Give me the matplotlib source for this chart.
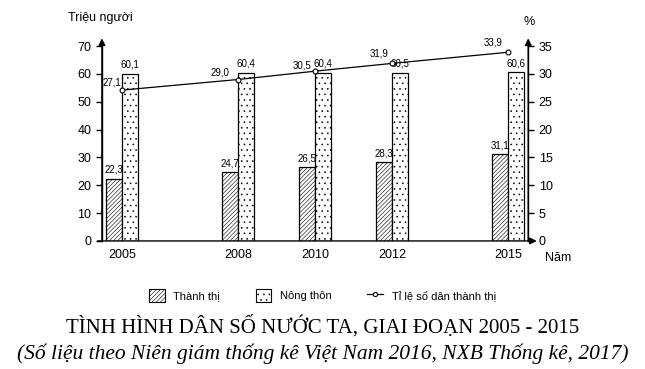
import numpy as np
import matplotlib.pyplot as plt
from matplotlib.patches import Patch
from matplotlib.lines import Line2D

years = [2005, 2008, 2010, 2012, 2015]
thanh_thi = [22.3, 24.7, 26.5, 28.3, 31.1]
nong_thon = [60.1, 60.4, 60.4, 60.5, 60.6]
ti_le = [27.1, 29.0, 30.5, 31.9, 33.9]


def fmt(v):
    return ('%.1f' % v).replace('.', ',')


plt.rcParams['font.family'] = ['Liberation Sans', 'DejaVu Sans']
plt.rcParams['hatch.linewidth'] = 0.4

fig = plt.figure(figsize=(6.45, 3.69), dpi=100)
ax = fig.add_axes([0.158, 0.347, 0.661, 0.528])
w = 0.41
x = np.array(years, dtype=float)

ax.bar(x - w / 2, thanh_thi, w, color='white', edgecolor='black', hatch='////////', linewidth=0.9)
ax.bar(x + w / 2, nong_thon, w, color='white', edgecolor='black', hatch='...', linewidth=0.9)
for xi, v in zip(x, thanh_thi):
    ax.text(xi - w / 2, v + 1.5, fmt(v), ha='center', va='bottom', fontsize=7)
for xi, v in zip(x, nong_thon):
    ax.text(xi + w / 2, v + 1.5, fmt(v), ha='center', va='bottom', fontsize=7)

ax.set_xlim(2004.48, 2015.52)
ax.set_ylim(0, 70)
ax.set_yticks(range(0, 71, 10))
ax.set_xticks(years)
ax.tick_params(axis='x', length=0, labelsize=9, pad=6)
ax.tick_params(axis='y', labelsize=9, length=4, width=1)
for s in ['top', 'right', 'bottom']:
    ax.spines[s].set_visible(False)
ax.spines['left'].set_linewidth(1)

ax2 = ax.twinx()
ax2.plot(x, ti_le, color='black', linewidth=0.9, marker='o', markersize=3.5,
         markerfacecolor='white', markeredgewidth=0.8)
offsets = [(-0.25, 0.4), (-0.45, 0.3), (-0.35, 0.1), (-0.35, 0.8), (-0.38, 0.9)]
for xi, v, (dx, dy) in zip(x, ti_le, offsets):
    ax2.text(xi + dx, v + dy, fmt(v), ha='center', va='bottom', fontsize=7)
ax2.set_ylim(0, 35)
ax2.set_yticks(range(0, 36, 5))
ax2.tick_params(axis='y', labelsize=9, length=4, width=1)
for s in ['top', 'left', 'bottom']:
    ax2.spines[s].set_visible(False)
ax2.spines['right'].set_linewidth(1)

# axis arrows
arrow = dict(arrowstyle='-|>', color='black', lw=1, mutation_scale=10, shrinkA=0, shrinkB=0)
ax.annotate('', xy=(0, 1.04), xytext=(0, 0), xycoords='axes fraction', arrowprops=arrow)
ax.annotate('', xy=(1, 1.04), xytext=(1, 0), xycoords='axes fraction', arrowprops=arrow)
ax.annotate('', xy=(1.02, 0), xytext=(-0.01, 0), xycoords='axes fraction', arrowprops=arrow)

fig.text(0.105, 0.935, 'Triệu người', fontsize=9, va='bottom')
fig.text(0.82, 0.925, '%', fontsize=9, ha='center', va='bottom')
fig.text(0.845, 0.30, 'Năm', fontsize=9, va='center')

handles = [Patch(facecolor='white', edgecolor='black', hatch='////////', linewidth=0.8),
           Patch(facecolor='white', edgecolor='black', hatch='...', linewidth=0.8),
           Line2D([0], [0], color='black', linewidth=0.9, marker='o', markersize=3,
                  markerfacecolor='white', markeredgewidth=0.8)]
fig.legend(handles, ['Thành thị', 'Nông thôn', 'Tỉ lệ số dân thành thị'], loc='center',
           bbox_to_anchor=(0.5, 0.2), ncol=3, frameon=False, fontsize=8,
           handlelength=1.4, handleheight=1.4, columnspacing=3.2)

fig.text(0.5, 0.115, 'TÌNH HÌNH DÂN SỐ NƯỚC TA, GIAI ĐOẠN 2005 - 2015', ha='center',
         va='center', fontsize=15, family='Liberation Serif')
fig.text(0.5, 0.04, '(Số liệu theo Niên giám thống kê Việt Nam 2016, NXB Thống kê, 2017)',
         ha='center', va='center', fontsize=15.5, family='Liberation Serif', style='italic')

fig.savefig('out.png', dpi=100)
